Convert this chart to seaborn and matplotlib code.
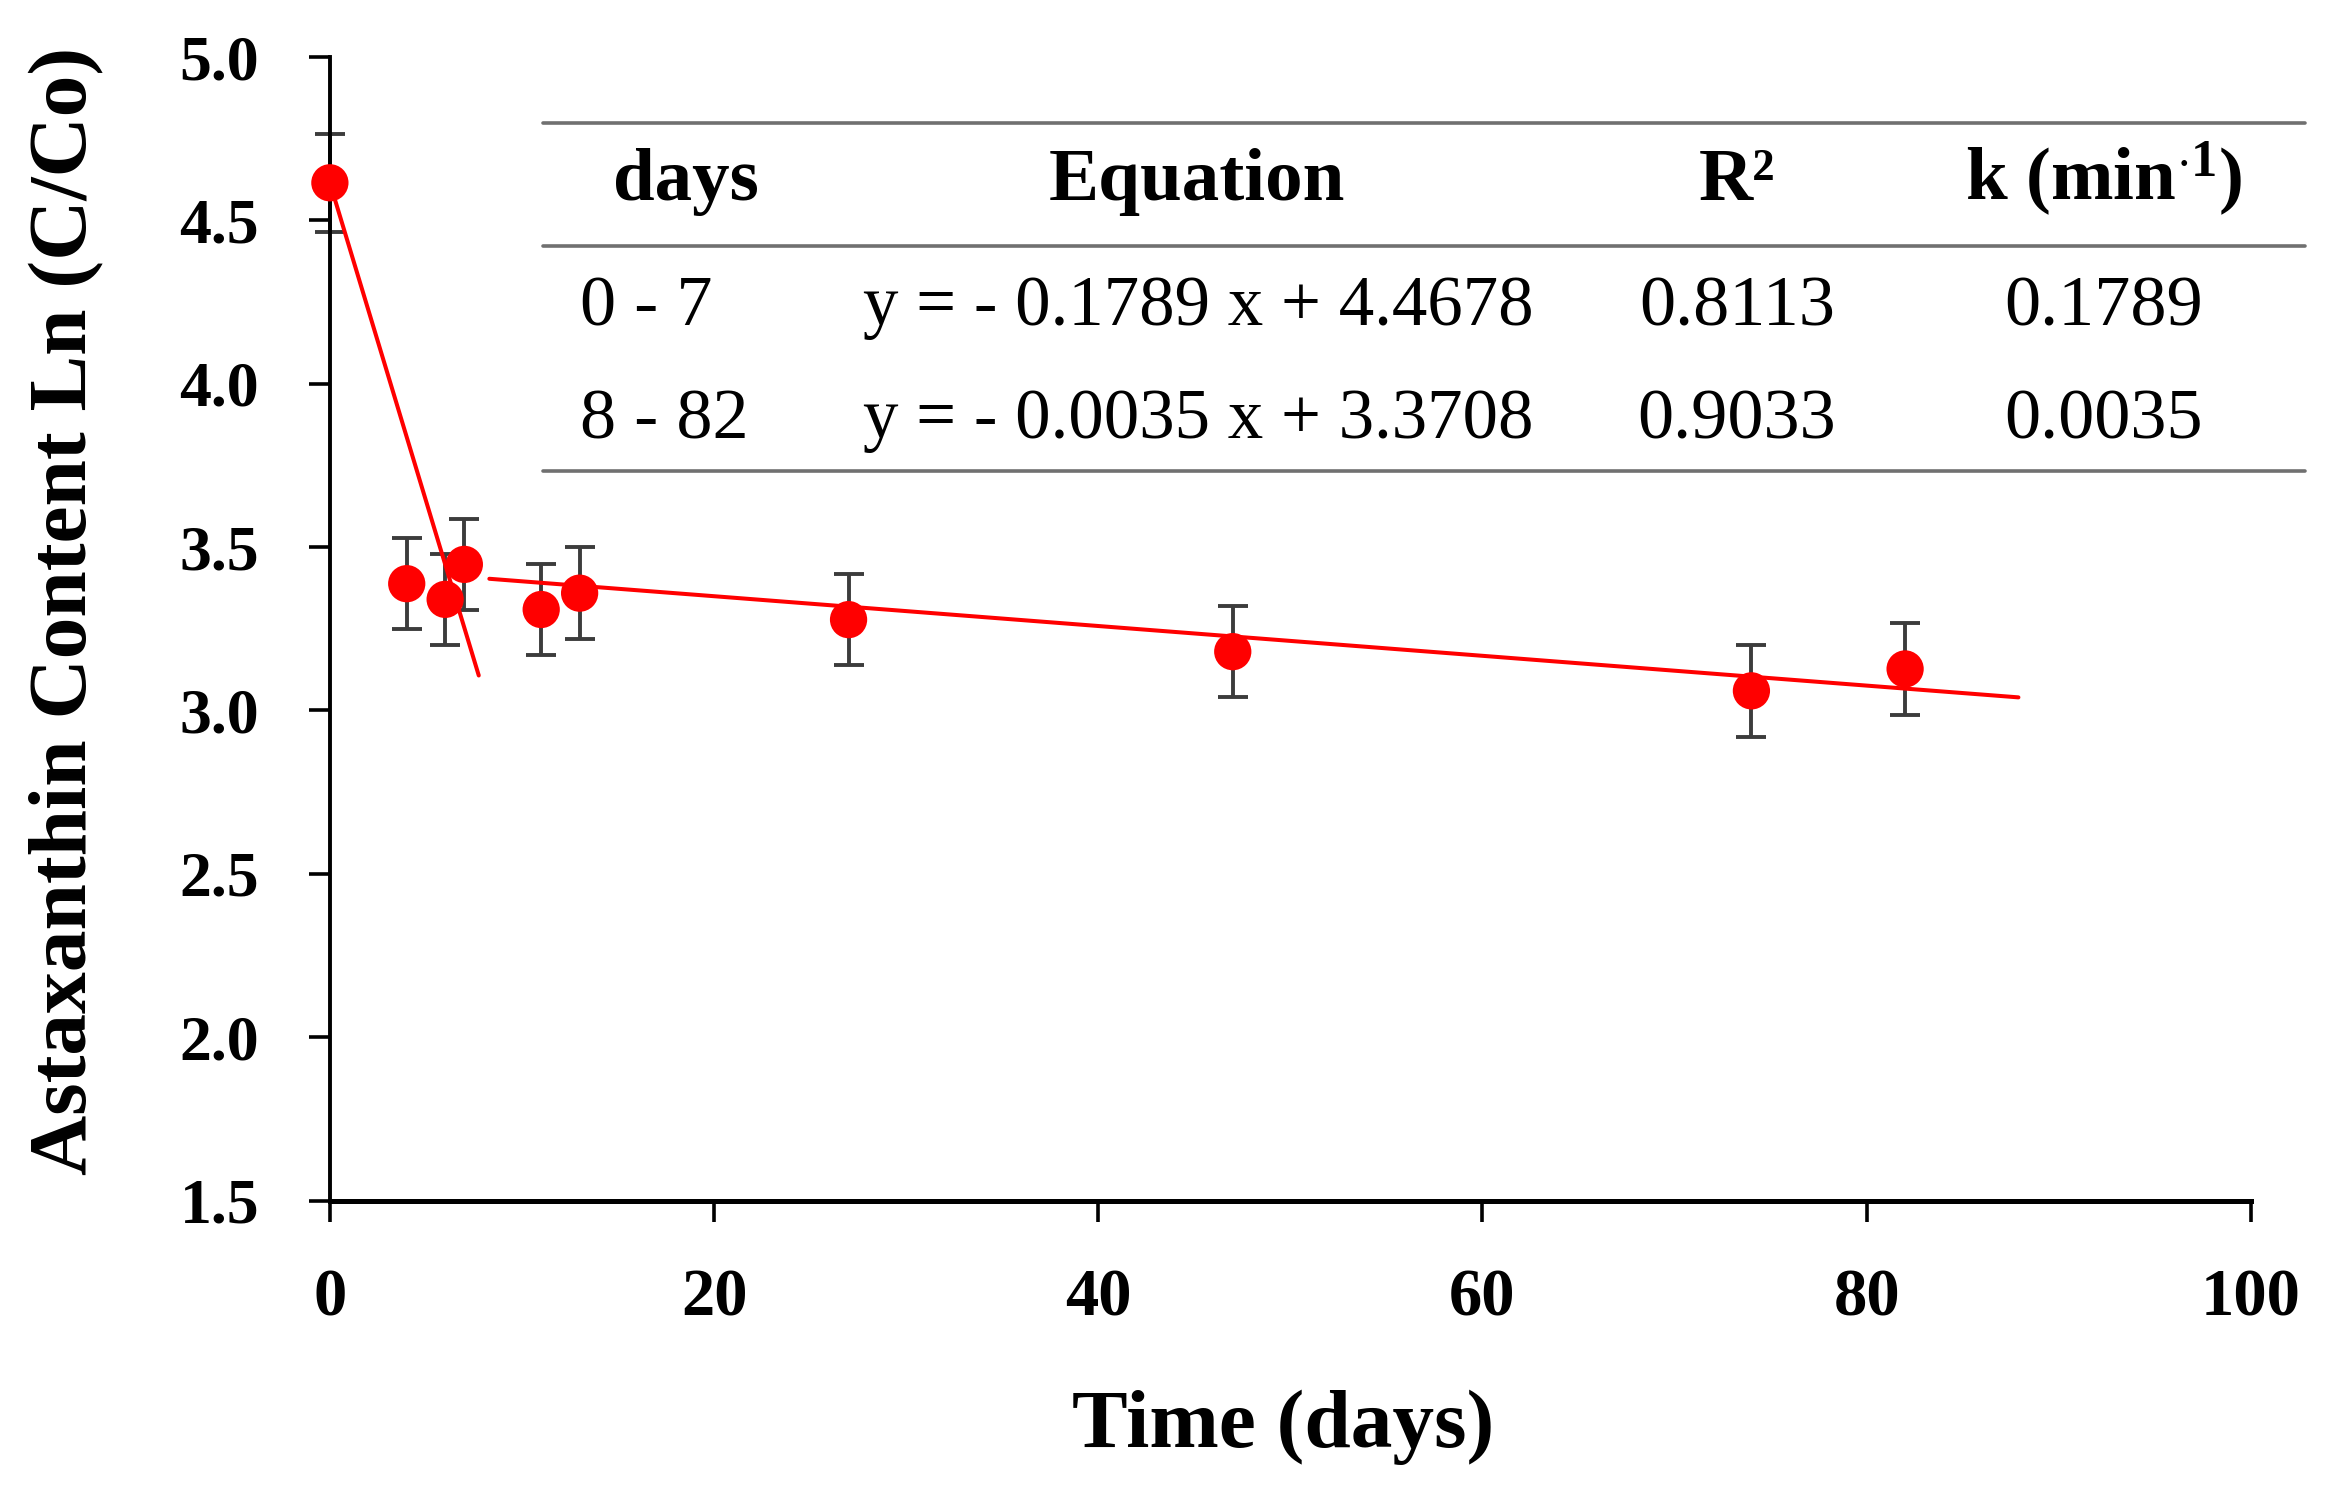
import matplotlib
matplotlib.use("Agg")
import matplotlib.pyplot as plt
from matplotlib.lines import Line2D
import seaborn as sns
import pandas as pd

# ---- data ----
days = [0, 4, 6, 7, 11, 13, 27, 47, 74, 82]
ln_c = [4.615, 3.388, 3.340, 3.447, 3.309, 3.359, 3.278, 3.180, 3.060, 3.127]
err = [0.15, 0.14, 0.14, 0.14, 0.14, 0.14, 0.14, 0.14, 0.14, 0.14]

fit1_days = [0, 7.75]
fit1_ln = [4.615, 3.107]
fit2_days = [8.3, 87.9]
fit2_ln = [3.403, 3.040]

x_ticks = [0, 20, 40, 60, 80, 100]
y_ticks = [1.5, 2.0, 2.5, 3.0, 3.5, 4.0, 4.5, 5.0]

tbl_header = ["days", "Equation", "R²", r"k (min$^{\cdot 1}$)"]
tbl_days = ["0 - 7", "8 - 82"]
tbl_eq = ["y = - 0.1789 x + 4.4678", "y = - 0.0035 x + 3.3708"]
tbl_r2 = ["0.8113", "0.9033"]
tbl_k = ["0.1789", "0.0035"]

# ---- style ----
sns.set_theme(style="ticks")
plt.rcParams['font.family'] = ['Liberation Serif', 'DejaVu Serif']
plt.rcParams['axes.unicode_minus'] = False
plt.rcParams['mathtext.fontset'] = 'custom'
plt.rcParams['mathtext.rm'] = 'Liberation Serif:bold'
plt.rcParams['mathtext.it'] = 'Liberation Serif:bold'
plt.rcParams['mathtext.bf'] = 'Liberation Serif:bold'

fig = plt.figure(figsize=(11.665, 7.56), dpi=200)
ax = fig.add_axes([0.1414, 0.2060, 0.8234, 0.7563])

df = pd.DataFrame({"days": days, "ln": ln_c, "err": err})
ax.errorbar(df["days"], df["ln"], yerr=df["err"], fmt="none", ecolor="#3c3c3c",
            elinewidth=1.4, capsize=5.4, capthick=1.4, zorder=2, clip_on=False)
sns.scatterplot(data=df, x="days", y="ln", ax=ax, color="#ff0000", s=180,
                edgecolor="none", linewidth=0, zorder=3, clip_on=False, legend=False)
sns.lineplot(x=fit1_days, y=fit1_ln, ax=ax, color="#ff0000", linewidth=1.45,
             zorder=4, legend=False)
sns.lineplot(x=fit2_days, y=fit2_ln, ax=ax, color="#ff0000", linewidth=1.45,
             zorder=4, legend=False)

ax.set_xlim(0, 100)
ax.set_ylim(1.5, 5.0)
ax.set_xticks(x_ticks)
ax.set_xticklabels([str(t) for t in x_ticks])
ax.set_yticks(y_ticks)
ax.set_yticklabels([f"{t:.1f}" for t in y_ticks])

for s in ["top", "right"]:
    ax.spines[s].set_visible(False)
ax.spines["left"].set_linewidth(1.4)
ax.spines["bottom"].set_linewidth(1.8)
ax.spines["left"].set_color("black")
ax.spines["bottom"].set_color("black")

ax.tick_params(axis="both", direction="out", length=7.5, width=1.3, color="black",
               labelcolor="black")
ax.tick_params(axis="y", pad=18, labelsize=23)
ax.tick_params(axis="x", pad=17, labelsize=24)
for lab in ax.get_xticklabels() + ax.get_yticklabels():
    lab.set_fontweight("bold")

ax.set_xlabel("Time (days)", fontsize=30, fontweight="bold", color="black",
              va="center", ha="center")
ax.xaxis.set_label_coords(0.496, -0.198)
ax.set_ylabel("Astaxanthin Content Ln (C/Co)", fontsize=30, fontweight="bold",
              color="black", va="center", ha="center")
ax.yaxis.set_label_coords(-0.1369, 0.516)

# ---- inset table ----
W, H = 2333.0, 1512.0
def fx(px):
    return px / W
def fy(py):
    return 1 - py / H

for ly in [123, 246, 471]:
    fig.add_artist(Line2D([fx(543), fx(2305)], [fy(ly), fy(ly)],
                          transform=fig.transFigure, color="#707070", linewidth=1.3))

col_centers = [686, 1197, 1737, 2104]
for txt, cx in zip(tbl_header, col_centers):
    fig.text(fx(cx), fy(200), txt, ha="center", va="baseline", fontsize=27,
             fontweight="bold", color="black")

row_base = [325, 438]
for i, by in enumerate(row_base):
    fig.text(fx(580), fy(by), tbl_days[i], ha="left", va="baseline", fontsize=26, color="black")
    fig.text(fx(863), fy(by), tbl_eq[i], ha="left", va="baseline", fontsize=25.5, color="black")
    fig.text(fx(1737), fy(by), tbl_r2[i], ha="center", va="baseline", fontsize=26, color="black")
    fig.text(fx(2104), fy(by), tbl_k[i], ha="center", va="baseline", fontsize=26, color="black")

fig.savefig("out.png", dpi=200, facecolor="white")
